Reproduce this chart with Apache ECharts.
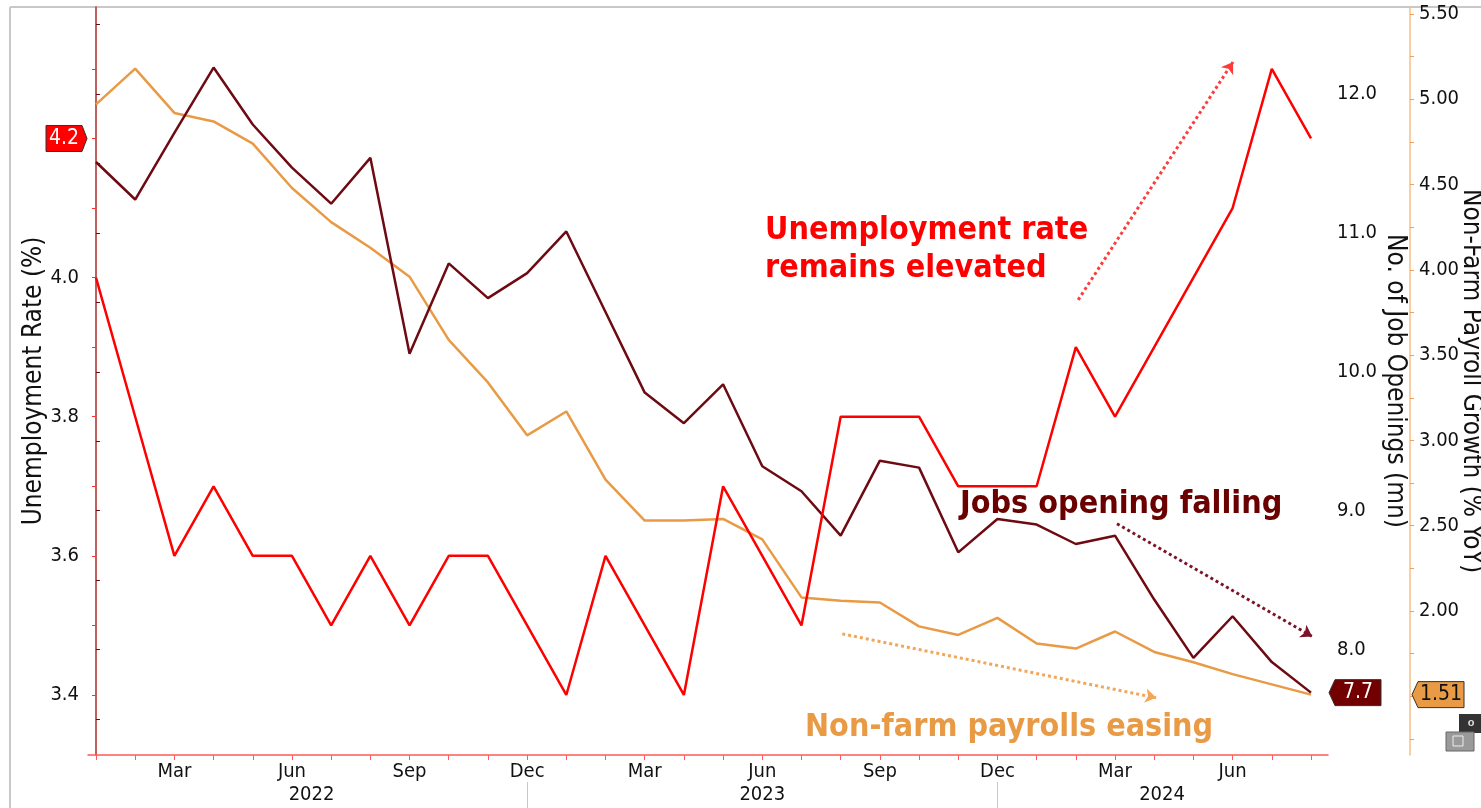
<!DOCTYPE html>
<html>
<head>
<meta charset="utf-8">
<script src="https://cdn.jsdelivr.net/npm/echarts@6/dist/echarts.min.js"></script>
<style>
html, body { margin: 0; padding: 0; background: #fff; }
#chart { width: 1481px; height: 808px; }
</style>
</head>
<body>
<div id="chart"></div>
<script>
// monthly, Jan 2022 .. Aug 2024
var months = ['Jan 2022', 'Feb 2022', 'Mar 2022', 'Apr 2022', 'May 2022', 'Jun 2022', 'Jul 2022', 'Aug 2022', 'Sep 2022', 'Oct 2022', 'Nov 2022', 'Dec 2022',
    'Jan 2023', 'Feb 2023', 'Mar 2023', 'Apr 2023', 'May 2023', 'Jun 2023', 'Jul 2023', 'Aug 2023', 'Sep 2023', 'Oct 2023', 'Nov 2023', 'Dec 2023',
    'Jan 2024', 'Feb 2024', 'Mar 2024', 'Apr 2024', 'May 2024', 'Jun 2024', 'Jul 2024', 'Aug 2024'];

var unemployment = [4.0, 3.8, 3.6, 3.7, 3.6, 3.6, 3.5, 3.6, 3.5, 3.6, 3.6, 3.5,
    3.4, 3.6, 3.5, 3.4, 3.7, 3.6, 3.5, 3.8, 3.8, 3.8, 3.7, 3.7,
    3.7, 3.9, 3.8, 3.9, 4.0, 4.1, 4.3, 4.2];

var jobOpenings = [11.51, 11.24, 11.72, 12.19, 11.78, 11.47, 11.21, 11.54, 10.13, 10.78, 10.53, 10.71,
    11.01, 10.43, 9.85, 9.63, 9.91, 9.32, 9.14, 8.82, 9.36, 9.31, 8.70, 8.94,
    8.90, 8.76, 8.82, 8.36, 7.94, 8.24, 7.91, 7.69];

var payrollGrowth = [4.97, 5.18, 4.92, 4.87, 4.74, 4.48, 4.28, 4.13, 3.96, 3.59, 3.34, 3.03,
    3.17, 2.77, 2.53, 2.53, 2.54, 2.42, 2.08, 2.06, 2.05, 1.91, 1.86, 1.96,
    1.81, 1.78, 1.88, 1.76, 1.70, 1.63, 1.57, 1.51];

var monthNames = ['Jan', 'Feb', 'Mar', 'Apr', 'May', 'Jun', 'Jul', 'Aug', 'Sep', 'Oct', 'Nov', 'Dec'];
var monthLabelIdx = [2, 5, 8, 11, 14, 17, 20, 23, 26, 29];
var yearLabels = ['2022', '2023', '2024'];
var yearLabelIdx = [5.5, 17, 27.2];
var yearBreakIdx = [11, 23];

var unempLabels = [3.4, 3.6, 3.8, 4.0];
var unempTicks = [3.4, 3.5, 3.6, 3.7, 3.8, 3.9, 4.0, 4.1, 4.2, 4.3];
var jobLabels = [8, 9, 10, 11, 12];
var jobTicks = [7.5, 8, 8.5, 9, 9.5, 10, 10.5, 11, 11.5, 12, 12.5];
var nfpLabels = [2, 2.5, 3, 3.5, 4, 4.5, 5, 5.5];
var nfpTicks = [1.25, 1.5, 1.75, 2, 2.25, 2.5, 2.75, 3, 3.25, 3.5, 3.75, 4, 4.25, 4.5, 4.75, 5, 5.25, 5.5];

var RED = '#ff0000';
var MAROON = '#6e0a12';
var ORANGE = '#e99a45';
var FONT = "'DejaVu Sans Condensed', 'DejaVu Sans', sans-serif";

function toPairs(arr) {
    return arr.map(function (v, i) { return [i, v]; });
}

var chart = echarts.init(document.getElementById('chart'));

var xMin = -0.204, xMax = 31.434;

var option = {
    animation: false,
    backgroundColor: '#fff',
    textStyle: { fontFamily: FONT },
    grid: { left: 88, right: 153, top: 7, bottom: 53, containLabel: false, outerBoundsMode: 'none' },
    xAxis: [
        {
            type: 'value', min: xMin, max: xMax, position: 'bottom',
            axisLine: { show: true, lineStyle: { color: '#ff5a5a', width: 1.5 } },
            axisTick: { show: true, customValues: months.map(function (m, i) { return i; }), length: 5, lineStyle: { color: '#ff5a5a' } },
            axisLabel: {
                customValues: monthLabelIdx, margin: 7, color: '#111', fontSize: 20, fontFamily: FONT,
                formatter: function (v) { return monthNames[Math.round(v) % 12]; }
            },
            splitLine: { show: false }
        },
        {
            type: 'value', min: xMin, max: xMax, position: 'bottom', offset: 27,
            axisLine: { show: false },
            axisTick: { show: true, customValues: yearBreakIdx, length: 30, lineStyle: { color: '#ffb0b0', width: 1 } },
            axisLabel: {
                customValues: yearLabelIdx, margin: 3, color: '#111', fontSize: 20, fontFamily: FONT,
                formatter: function (v) { return yearLabels[yearLabelIdx.indexOf(v)]; }
            },
            splitLine: { show: false }
        }
    ],
    yAxis: [
        {
            type: 'value', position: 'left', min: 3.3137, max: 4.389,
            name: 'Unemployment Rate (%)', nameLocation: 'middle', nameGap: 41, nameMoveOverlap: false,
            nameTextStyle: { color: '#111', fontSize: 26, fontFamily: FONT },
            axisLine: { show: true, lineStyle: { color: '#ff8a8a', width: 1.5 } },
            axisTick: { show: true, customValues: unempTicks, length: 4, lineStyle: { color: '#ff3030' } },
            axisLabel: {
                customValues: unempLabels, margin: 9, color: '#111', fontSize: 20, fontFamily: FONT,
                formatter: function (v) { return v.toFixed(1); }
            },
            splitLine: { show: false }
        },
        {
            type: 'value', position: 'right', min: 7.241, max: 12.626,
            name: 'No. of Job Openings (mn)', nameLocation: 'middle', nameRotate: -90, nameGap: 54, nameMoveOverlap: false,
            nameTextStyle: { color: '#111', fontSize: 26, fontFamily: FONT },
            axisLine: { show: true, lineStyle: { color: '#a84848', width: 1.5 } },
            axisTick: { show: true, customValues: jobTicks, length: 4, lineStyle: { color: MAROON } },
            axisLabel: {
                customValues: jobLabels, margin: 9, color: '#111', fontSize: 20, fontFamily: FONT,
                formatter: function (v) { return v.toFixed(1); }
            },
            splitLine: { show: false }
        },
        {
            type: 'value', position: 'right', offset: 82, min: 1.156, max: 5.541,
            name: 'Non-Farm Payroll Growth (% YoY)', nameLocation: 'middle', nameRotate: -90, nameGap: 48, nameMoveOverlap: false,
            nameTextStyle: { color: '#111', fontSize: 26, fontFamily: FONT },
            axisLine: { show: true, lineStyle: { color: '#f5bf86', width: 1.5 } },
            axisTick: { show: true, customValues: nfpTicks, length: 4, lineStyle: { color: '#f0a050' } },
            axisLabel: {
                customValues: nfpLabels, margin: 9, color: '#111', fontSize: 20, fontFamily: FONT,
                formatter: function (v) { return v.toFixed(2); }
            },
            splitLine: { show: false }
        }
    ],
    series: [
        {
            name: 'Non-farm payrolls', type: 'line', xAxisIndex: 0, yAxisIndex: 2,
            data: toPairs(payrollGrowth), showSymbol: false,
            lineStyle: { color: ORANGE, width: 2.5 }, itemStyle: { color: ORANGE },
            markLine: {
                silent: true, symbol: ['none', 'arrow'], symbolSize: 11,
                label: { show: false },
                lineStyle: { color: '#f2a65a', type: 'dotted', width: 3 },
                data: [[{ coord: [19.04, 1.866] }, { coord: [27.05, 1.491] }]]
            }
        },
        {
            name: 'Job openings', type: 'line', xAxisIndex: 0, yAxisIndex: 1,
            data: toPairs(jobOpenings), showSymbol: false,
            lineStyle: { color: MAROON, width: 2.5 }, itemStyle: { color: MAROON },
            markLine: {
                silent: true, symbol: ['none', 'arrow'], symbolSize: 11,
                label: { show: false },
                lineStyle: { color: '#7a1428', type: 'dotted', width: 3 },
                data: [[{ coord: [26.05, 8.906] }, { coord: [31.03, 8.094] }]]
            }
        },
        {
            name: 'Unemployment rate', type: 'line', xAxisIndex: 0, yAxisIndex: 0,
            data: toPairs(unemployment), showSymbol: false,
            lineStyle: { color: RED, width: 2.5 }, itemStyle: { color: RED },
            markLine: {
                silent: true, symbol: ['none', 'arrow'], symbolSize: 11,
                label: { show: false },
                lineStyle: { color: '#ff3b3b', type: 'dotted', width: 3 },
                data: [[{ coord: [25.06, 3.968] }, { coord: [29.01, 4.31] }]]
            }
        }
    ]
};

chart.setOption(option);

// end-value flags on the axes + annotation texts
var lastU = unemployment[unemployment.length - 1];
var lastJ = jobOpenings[jobOpenings.length - 1];
var lastN = payrollGrowth[payrollGrowth.length - 1];
var yU = chart.convertToPixel({ yAxisIndex: 0 }, lastU);
var yJ = chart.convertToPixel({ yAxisIndex: 1 }, lastJ);
var yN = chart.convertToPixel({ yAxisIndex: 2 }, lastN);

function flagLeft(xTip, w, y, fill, txt, txtColor) {
    // box pointing left toward the axis
    return [
        { type: 'polygon', shape: { points: [[xTip, y], [xTip + 6, y - 13], [xTip + w, y - 13], [xTip + w, y + 13], [xTip + 6, y + 13]] },
          style: { fill: fill, stroke: '#333', lineWidth: 1 }, z: 100 },
        { type: 'text', x: xTip + 6 + (w - 6) / 2, y: y, style: { text: txt, fill: txtColor, font: '21px ' + FONT, align: 'center', verticalAlign: 'middle' }, z: 101 }
    ];
}

var graphics = [
    // panel frame
    { type: 'line', shape: { x1: 10, y1: 7, x2: 1481, y2: 7 }, style: { stroke: '#c8c8c8', lineWidth: 2 }, z: -1 },
    { type: 'line', shape: { x1: 10, y1: 7, x2: 10, y2: 808 }, style: { stroke: '#c8c8c8', lineWidth: 2 }, z: -1 },
    // unemployment flag (points right toward the left axis)
    { type: 'polygon', shape: { points: [[46, yU - 13], [82, yU - 13], [87, yU], [82, yU + 13], [46, yU + 13]] },
      style: { fill: '#ff0000', stroke: '#333', lineWidth: 1 }, z: 100 },
    { type: 'text', x: 64, y: yU, style: { text: lastU.toFixed(1), fill: '#fff', font: '21px ' + FONT, align: 'center', verticalAlign: 'middle' }, z: 101 },
    // annotations
    { type: 'text', x: 765, y: 250, style: { text: 'Unemployment rate\nremains elevated', fill: '#ff0000', font: 'bold 32px ' + FONT, lineHeight: 38, verticalAlign: 'middle' }, z: 50 },
    { type: 'text', x: 960, y: 505, style: { text: 'Jobs opening falling', fill: '#6b0000', font: 'bold 32px ' + FONT, verticalAlign: 'middle', stroke: '#fff', lineWidth: 2 }, z: 50 },
    { type: 'text', x: 805, y: 728, style: { text: 'Non-farm payrolls easing', fill: '#e89a45', font: 'bold 32px ' + FONT, verticalAlign: 'middle' }, z: 50 },
    // small toolbar widgets bottom-right
    { type: 'rect', shape: { x: 1459, y: 714, width: 22, height: 19 }, style: { fill: '#333' }, z: 100 },
    { type: 'text', x: 1471, y: 723, style: { text: 'o', fill: '#ddd', font: 'bold 11px sans-serif', align: 'center', verticalAlign: 'middle' }, z: 101 },
    { type: 'rect', shape: { x: 1446, y: 732, width: 28, height: 19 }, style: { fill: '#9a9a9a', stroke: '#666', lineWidth: 1 }, z: 100 },
    { type: 'rect', shape: { x: 1453, y: 736, width: 10, height: 10 }, style: { fill: 'none', stroke: '#eee', lineWidth: 1 }, z: 101 }
];
graphics = graphics.concat(flagLeft(1329, 52, yJ, '#720000', lastJ.toFixed(1), '#fff'));
graphics = graphics.concat(flagLeft(1412, 52, yN, '#e99a45', lastN.toFixed(2), '#111'));

chart.setOption({ graphic: graphics });
</script>
</body>
</html>
